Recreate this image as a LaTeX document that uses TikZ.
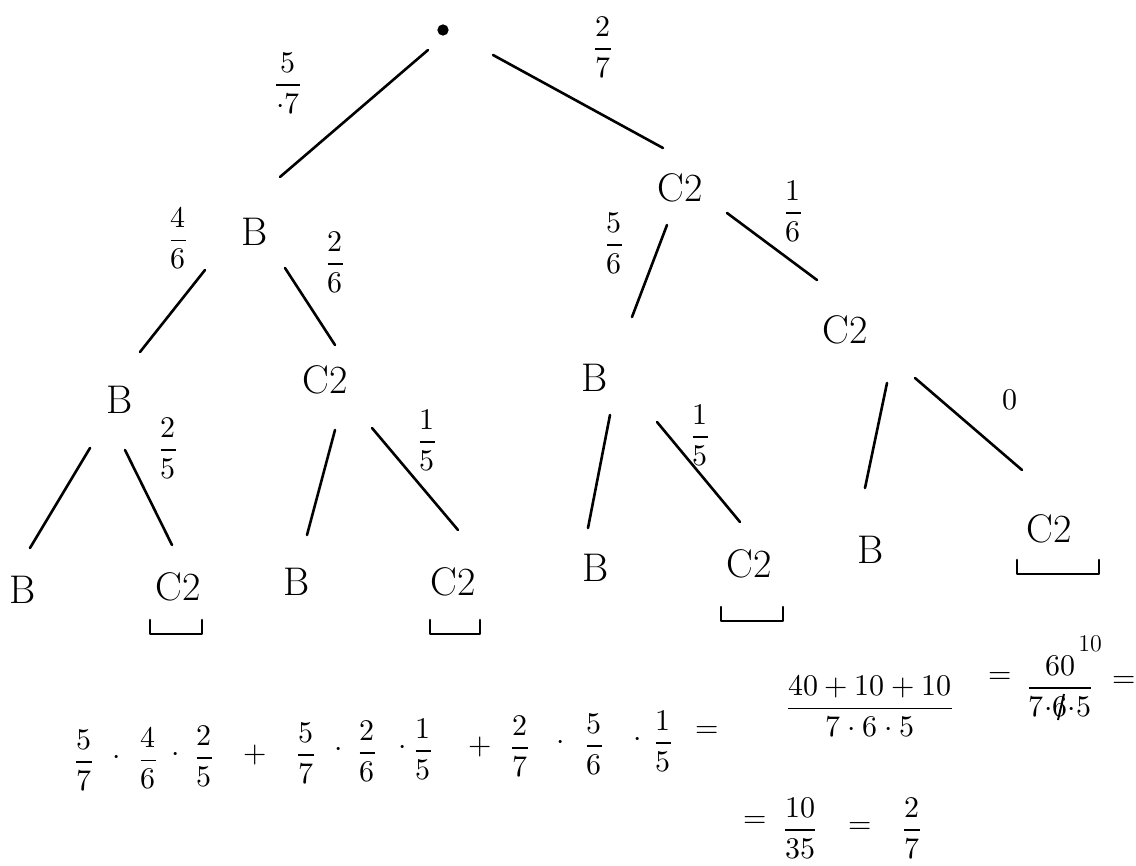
\documentclass[tikz,border=0pt]{standalone}
\usepackage{amsmath}
\usepackage{unicode-math}
\begin{document}
\begin{tikzpicture}[x=0.5pt,y=-0.5pt,
  knot/.style={inner sep=1pt,font=\fontsize{20}{24}\selectfont},
  prob/.style={inner sep=1pt,font=\fontsize{15}{18}\selectfont},
  edge/.style={line width=1.3pt,line cap=round},
  brk/.style={line width=1.3pt,line cap=round,line join=round}]
  \useasboundingbox (0,0) rectangle (1136,866);
  % tree
  \node[circle,fill,inner sep=2pt] (root) at (443,30) {};
  \node[knot] (b1) at (255,232) {B};
  \node[knot] (c1) at (680,188) {C2};
  \node[knot] (b2) at (120,400) {B};
  \node[knot] (c2) at (325,380) {C2};
  \node[knot] (b3) at (595,378) {B};
  \node[knot] (c3) at (845,330) {C2};
  \node[knot] (l1) at (23,590) {B};
  \node[knot] (l2) at (178,587) {C2};
  \node[knot] (l3) at (297,582) {B};
  \node[knot] (l4) at (453,582) {C2};
  \node[knot] (l5) at (596,568) {B};
  \node[knot] (l6) at (749,564) {C2};
  \node[knot] (l7) at (871,550) {B};
  \node[knot] (l8) at (1049,529) {C2};
  % branches, ends offset from the centres
  \foreach \p/\c/\sx/\sy/\ex/\ey in {root/b1/-15/20/25/-55, root/c1/50/25/-17/-40,
      b1/b2/-50/38/20/-48, b1/c2/30/36/10/-35, c1/b3/-13/37/37/-61, c1/c3/47/25/-28/-50,
      b2/l1/-30/48/7/-42, b2/l2/5/50/-6/-42, c2/l3/10/50/10/-47, c2/l4/47/48/5/-52,
      b3/l5/15/37/-8/-40, b3/l6/62/44/-9/-42, c3/l7/42/53/-6/-62, c3/l8/70/48/-27/-59}
    \draw[edge] ([shift={(\sx,\sy)}]\p.center) -- ([shift={(\ex,\ey)}]\c.center);
  % probabilities
  \node[prob] (p1) at (288,83) {$\dfrac{5}{{\cdot}7}$};
  \node[prob] (p2) at (603,47) {$\dfrac{2}{7}$};
  \node[prob] (p3) at (178,238) {$\dfrac{4}{6}$};
  \node[prob] (p4) at (335,262) {$\dfrac{2}{6}$};
  \node[prob] (p5) at (614,243) {$\dfrac{5}{6}$};
  \node[prob] (p6) at (793,211) {$\dfrac{1}{6}$};
  \node[prob] (p7) at (168,448) {$\dfrac{2}{5}$};
  \node[prob] (p8) at (427,440) {$\dfrac{1}{5}$};
  \node[prob] (p9) at (700,435) {$\dfrac{1}{5}$};
  \node[prob] (p10) at (1010,400) {$0$};
  % marks under the C2 leaves
  \foreach \n/\a/\b/\w in {l2/-28/33/52, l4/-23/38/50, l6/-28/43/62, l8/-32/31/82}
    \draw[brk] ([shift={(\a,\b)}]\n.center) -- ++(0,14) -- ++(\w,0) -- ++(0,-14);
  % sum
  \foreach \x/\y/\t [count=\i] in {84/760/{\dfrac{5}{7}}, 117/760/\cdot, 148/758/{\dfrac{4}{6}},
      176/757/\cdot, 204/756/{\dfrac{2}{5}}, 255/755/+, 306/753/{\dfrac{5}{7}}, 339/752/\cdot,
      367/751/{\dfrac{2}{6}}, 403/750/\cdot, 423/749/{\dfrac{1}{5}}, 480/747/+,
      520/746/{\dfrac{2}{7}}, 561/745/\cdot, 594/744/{\dfrac{5}{6}}, 638/742/\cdot,
      663/741/{\dfrac{1}{5}}, 707/732/=}
    \node[prob] (f\i) at (\x,\y) {$\t$};
  \node[prob] (s1) at (870,706) {$\dfrac{40+10+10}{7\cdot6\cdot5}$};
  \node[prob] (e1) at (1000,678) {$=$};
  \node[prob] (s2) at (1060,686) {$\dfrac{60}{7{\cdot}6{\cdot}5}$};
  \draw[line width=1pt] ([shift={(4,8)}]s2.center) -- ([shift={(-2,34)}]s2.center);
  \node[inner sep=1pt,font=\fontsize{12}{14}\selectfont] (s2top) at (1090,644) {10};
  \node[prob] (e2) at (1124,682) {$=$};
  \node[prob] (e3) at (755,822) {$=$};
  \node[prob] (s3) at (800,828) {$\dfrac{10}{35}$};
  \node[prob] (e4) at (860,828) {$=$};
  \node[prob] (s4) at (912,828) {$\dfrac{2}{7}$};
\end{tikzpicture}
\end{document}
